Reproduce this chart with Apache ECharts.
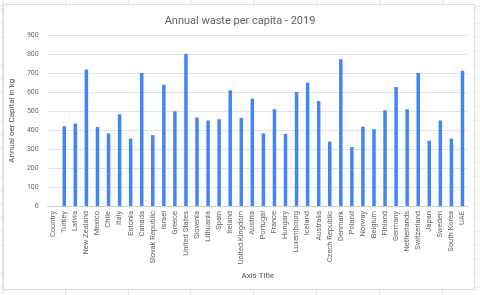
<!DOCTYPE html>
<html>
<head>
<meta charset="utf-8">
<script src="https://cdn.jsdelivr.net/npm/echarts@6/dist/echarts.min.js"></script>
<style>
html,body{margin:0;padding:0;width:480px;height:295px;overflow:hidden;background:#fff;}
#bg{position:absolute;left:0;top:0;width:480px;height:295px;
background-image:
 repeating-linear-gradient(to right, #e3e3e3 0, #e3e3e3 1px, transparent 1px, transparent 62.8px),
 repeating-linear-gradient(to bottom, #e8e8e8 0, #e8e8e8 1px, transparent 1px, transparent 13.9px);
background-position:2.2px 0, 0 8.8px;}
#card{position:absolute;left:3px;top:4px;width:470px;height:284px;background:#fff;border:1px solid #dedede;box-shadow:0 0 2px rgba(0,0,0,0.08);}
#chart{position:absolute;left:0;top:0;width:480px;height:295px;}
</style>
</head>
<body>
<div id="bg"></div>
<div id="card"></div>
<div id="chart"></div>
<script>
const categories = ["Country","Turkey","Latvia","New Zealand","Mexico","Chile","Italy","Estonia","Canada","Slovak Republic","Israel","Greece","United States","Slovenia","Lithuania","Spain","Ireland","United Kingdom","Austria","Portugal","France","Hungary","Luxembourg","Iceland","Australia","Czech Republic","Denmark","Poland","Norway","Belgium","Finland","Germany","Netherlands","Switzerland","Japan","Sweden","South Korea","UAE"];
const wastePerCapita = [null,421,435,721,417,383,484,356,702,374,640,500,803,467,451,458,611,465,567,383,511,381,602,651,554,340,775,311,419,405,505,628,511,702,344,451,356,714];
const yTicks = [0,100,200,300,400,500,600,700,800,900];

const chart = echarts.init(document.getElementById('chart'), null, {renderer:'canvas'});
chart.setOption({
  backgroundColor:'transparent',
  animation:false,
  title:{text:'Annual waste per capita - 2019',left:'center',top:11,
    textStyle:{fontFamily:'Roboto, Arial, sans-serif',fontSize:11,fontWeight:'normal',color:'#5f5f5f'}},
  grid:{left:42,right:12,top:35.5,bottom:89,containLabel:false},
  xAxis:{type:'category',data:categories,
    axisLine:{show:true,lineStyle:{color:'#cccccc',width:1}},
    axisTick:{show:false},
    axisLabel:{rotate:90,interval:0,fontSize:7.5,color:'#666666',fontFamily:'Roboto, Arial, sans-serif',margin:5},
    name:'Axis Title',nameLocation:'middle',nameGap:64,
    nameTextStyle:{fontSize:8,color:'#555555',fontFamily:'Roboto, Arial, sans-serif'}},
  yAxis:{type:'value',min:yTicks[0],max:yTicks[yTicks.length-1],interval:100,
    axisLine:{show:false},axisTick:{show:false},
    splitLine:{lineStyle:{color:'#e3e3e3',width:1}},
    axisLabel:{fontSize:7,color:'#6a6a6a',fontFamily:'Roboto, Arial, sans-serif',margin:9},
    name:'Annual oer Capital in kg',nameLocation:'middle',nameGap:22,nameRotate:90,
    nameTextStyle:{fontSize:8,color:'#555555',fontFamily:'Roboto, Arial, sans-serif'}},
  series:[{type:'bar',data:wastePerCapita,barWidth:3.5,
    itemStyle:{color:'#4285f4'}}]
});
</script>
</body>
</html>
